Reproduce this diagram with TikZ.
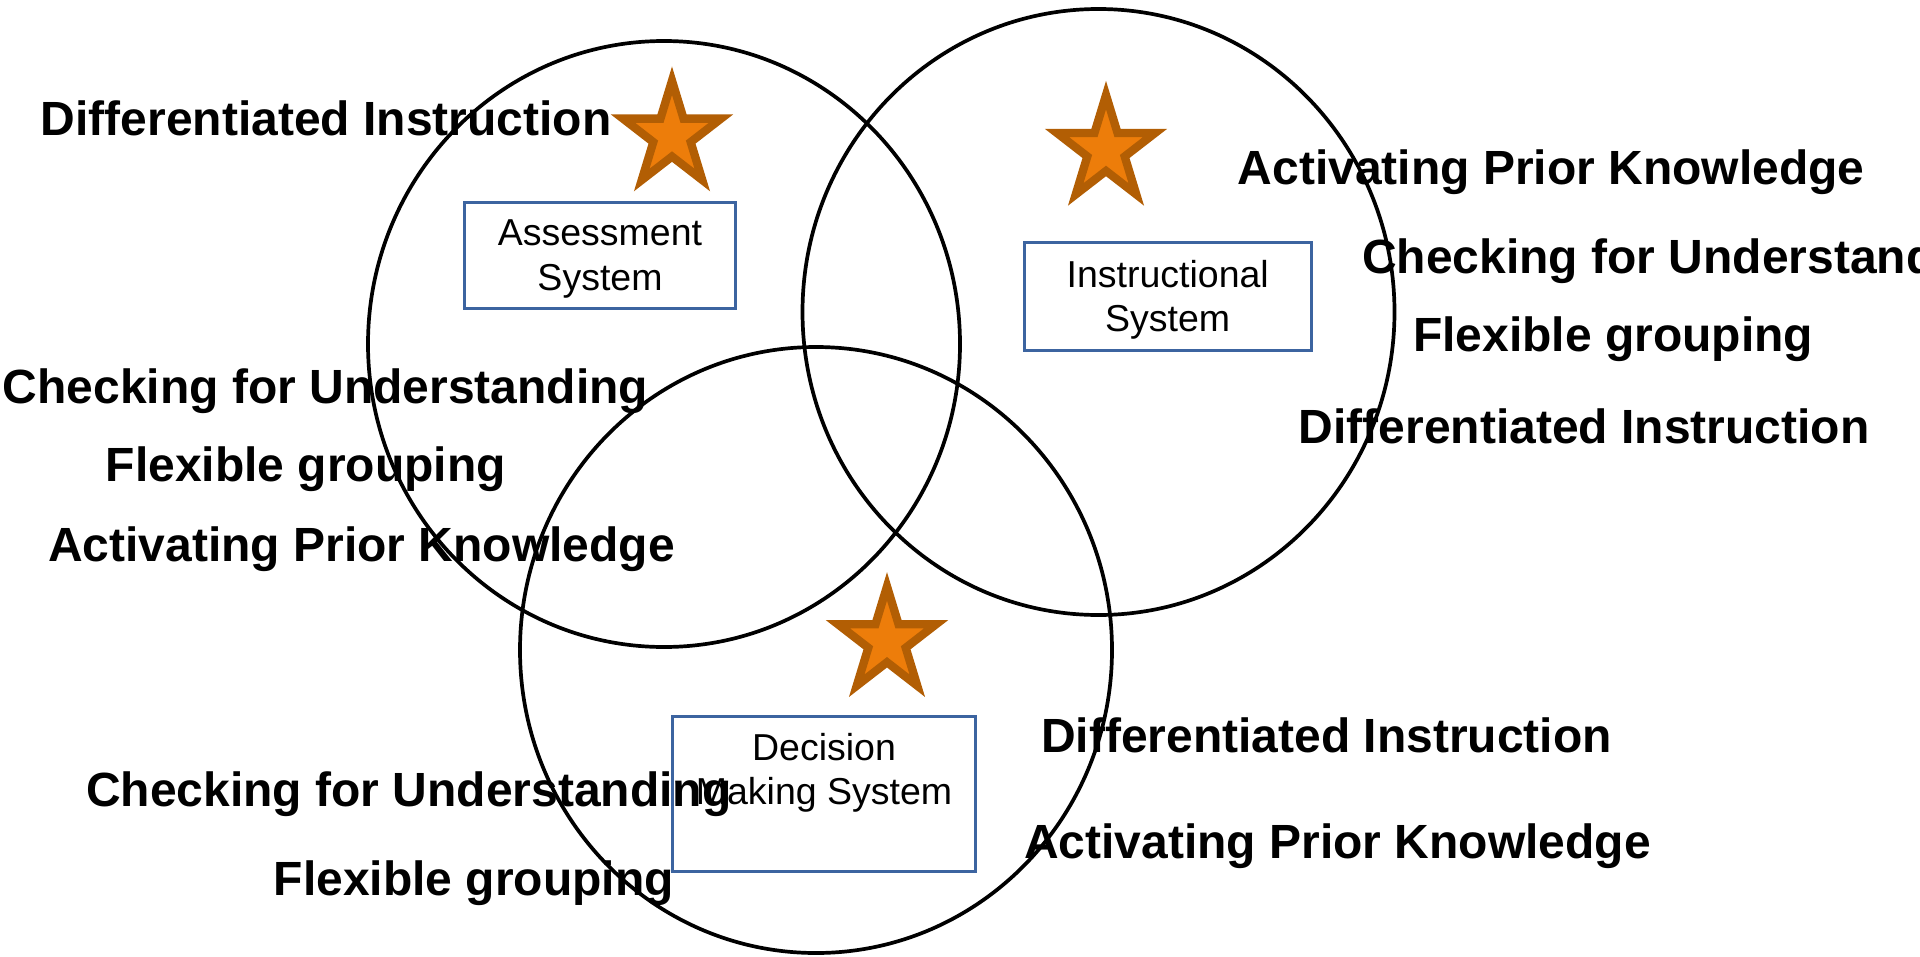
\documentclass[tikz,border=0pt]{standalone}
\usepackage{fontspec}
\setmainfont{Liberation Sans}
\usetikzlibrary{shapes.geometric}
\definecolor{starfill}{RGB}{237,125,10}
\definecolor{starline}{RGB}{178,94,4}
\definecolor{boxline}{RGB}{60,100,160}
\tikzset{
  pics/vstar/.style={code={
    \draw[starsty, yscale=-1.066] (90:51.5) -- (126:19.67) -- (162:51.5) -- (198:19.67) -- (234:51.5) -- (270:19.67) -- (306:51.5) -- (342:19.67) -- (18:51.5) -- (54:19.67) -- cycle;
  }}
}
\begin{document}
\begin{tikzpicture}[x=1pt,y=-1pt,
  venn/.style={ellipse, draw=black, line width=3.7pt, minimum width=592pt, minimum height=606pt, inner sep=0pt},
  sysbox/.style={rectangle, draw=boxline, line width=3pt, inner sep=0pt},
  systext/.style={font=\fontsize{37.5}{44.5}\selectfont, align=center, inner sep=0pt, anchor=north},
  lbl/.style={font=\fontsize{48}{56}\selectfont\bfseries, inner sep=0pt, anchor=base west},
  starsty/.style={draw=starline, fill=starfill, line width=8.3pt, line join=miter}]
\useasboundingbox (0,0) rectangle (1920,956);
\clip (0,0) rectangle (1920,956);

% Venn circles
\node[venn] (circA) at (664,344) {};
\node[venn] (circB) at (1098.5,312) {};
\node[venn] (circC) at (816,650) {};

% system boxes
\node[sysbox, minimum width=271pt, minimum height=106pt] (boxA) at (600,255.5) {};
\node[sysbox, minimum width=287pt, minimum height=107.5pt] (boxB) at (1167.5,296.25) {};
\node[sysbox, minimum width=303pt, minimum height=155pt] (boxC) at (824,794) {};
\node[systext] (tA) at (600,219.8) {Assessment\\System};
\node[systext] (tB) at (1167.7,259.8) {Instructional\\System};
\node[systext] (tC) at (824,733.1) {Decision\\Making System};

% stars
\pic (starA) at (672,135.6) {vstar};
\pic (starB) at (1106,150) {vstar};
\pic (starC) at (887,641.3) {vstar};

% labels
\node[lbl] (l1) at (40.5,135) {Differentiated Instruction};
\node[lbl] (l2) at (1237.6,184.3) {Activating Prior Knowledge};
\node[lbl] (l3) at (1362,273.3) {Checking for Understanding};
\node[lbl] (l4) at (1413,351.7) {Flexible grouping};
\node[lbl] (l5) at (1298.5,443.3) {Differentiated Instruction};
\node[lbl] (l6) at (2.5,403.3) {Checking for Understanding};
\node[lbl] (l7) at (105.5,481) {Flexible grouping};
\node[lbl] (l8) at (48,561) {Activating Prior Knowledge};
\node[lbl] (l9) at (1041,752) {Differentiated Instruction};
\node[lbl] (l10) at (86,806.7) {Checking for Understanding};
\node[lbl] (l11) at (1024,858.3) {Activating Prior Knowledge};
\node[lbl] (l12) at (273.5,895) {Flexible grouping};
\end{tikzpicture}
\end{document}
